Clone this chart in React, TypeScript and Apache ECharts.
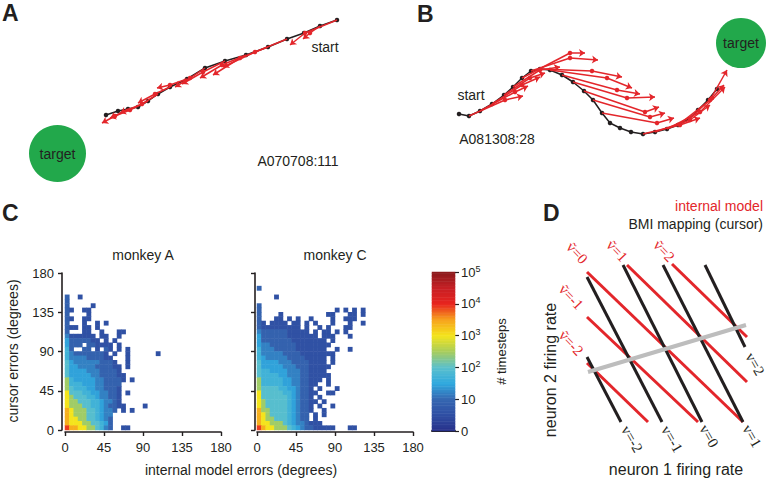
import React, { useEffect, useRef } from 'react';
import * as echarts from 'echarts';

const SANS = '"Liberation Sans", Arial, Helvetica, sans-serif';
const SERIF = '"Liberation Serif", "DejaVu Serif", serif';
const INK = '#231f20';
const RED = '#e3262b';
const GREEN = '#22a84b';
const GRAY = '#bdbdbd';

// ---------- Panel A (workspace units) ----------
const trajA = [
  [33.7, 18.0], [32.0, 17.4], [30.4, 16.7], [28.7, 16.1], [26.8, 15.3], [24.6, 14.5],
  [22.5, 13.9], [20.5, 13.2], [18.7, 12.1], [17.0, 11.3], [15.8, 10.6], [14.8, 9.9],
  [13.8, 9.3], [12.8, 9.1], [11.8, 8.9], [10.6, 8.5],
];
// each internal-model prediction: [start, dot, arrow tip]
const arrowsA = [
  [[33.7, 18.0], [30.5, 16.7], [29.0, 15.5]],
  [[32.0, 17.4], [31.0, 16.7], [30.3, 16.1]],
  [[28.7, 16.1], [25.5, 14.8], [22.3, 13.3]],
  [[26.8, 15.3], [24.0, 14.2], [21.3, 12.5]],
  [[24.6, 14.5], [22.2, 13.5], [20.0, 12.2]],
  [[22.5, 13.9], [20.3, 12.8], [18.2, 11.6]],
  [[20.5, 13.2], [19.0, 12.2], [17.5, 11.3]],
  [[18.7, 12.1], [17.0, 11.5], [15.7, 11.2]],
  [[17.0, 11.3], [15.5, 10.6], [13.8, 9.7]],
  [[15.8, 10.6], [14.2, 9.6], [12.0, 8.7]],
  [[14.8, 9.9], [13.0, 9.0], [11.0, 8.2]],
  [[12.8, 9.1], [11.5, 8.4], [10.2, 7.7]],
];
const targetA = [5.75, 4.65];

// ---------- Panel B ----------
const trajB = [
  [7.9, 8.6], [8.9, 8.4], [10.0, 8.9], [11.2, 9.6], [12.4, 10.5], [13.3, 11.3], [14.2, 12.2],
  [15.1, 12.9], [16.0, 13.1], [17.0, 13.0], [18.2, 12.5], [19.3, 11.8], [20.4, 10.9],
  [21.3, 10.0], [22.2, 8.7], [23.0, 7.7], [24.0, 7.2], [25.1, 6.8], [26.3, 6.6], [27.5, 6.8],
  [28.7, 7.1], [29.8, 7.5], [30.9, 8.1], [31.8, 9.0], [32.8, 10.0], [33.7, 11.1],
];
const arrowsB = [
  [[14.2, 12.2], [19.0, 14.7], [20.5, 14.7]],
  [[15.1, 12.9], [19.0, 14.2], [21.8, 14.0]],
  [[16.0, 13.1], [21.2, 12.9], [24.2, 12.3]],
  [[17.0, 13.0], [22.7, 12.2], [25.2, 11.2]],
  [[18.2, 12.5], [23.7, 11.0], [26.0, 10.6]],
  [[19.3, 11.8], [24.7, 10.2], [27.5, 10.3]],
  [[20.4, 10.9], [26.5, 8.8], [27.9, 9.3]],
  [[21.3, 10.0], [27.0, 8.3], [28.5, 8.7]],
  [[22.2, 8.7], [27.7, 7.7], [29.4, 8.2]],
  [[8.9, 8.4], [12.5, 10.0], [14.3, 10.4]],
  [[10.0, 8.9], [13.5, 10.8], [14.8, 11.4]],
  [[11.2, 9.6], [14.2, 11.5], [16.0, 12.3]],
  [[12.4, 10.5], [15.0, 12.2], [16.5, 12.7]],
  [[13.3, 11.3], [16.0, 13.0], [18.0, 13.3]],
  [[26.3, 6.6], [30.0, 7.5], [32.0, 8.2]],
  [[27.5, 6.8], [31.0, 8.0], [33.0, 9.5]],
  [[28.7, 7.1], [32.0, 8.8], [34.5, 11.3]],
  [[29.8, 7.5], [33.0, 10.0], [34.7, 13.0]],
  [[30.9, 8.1], [33.2, 10.2], [34.4, 11.5]],
];
const targetB = [36.1, 15.7];

// ---------- Panel C (5-degree bins, log10 count levels) ----------
const errorTicks = [0, 45, 90, 135, 180];
const nBins = 36;
const levelValues: Record<string, number> = {
  '1': 0.55, '2': 0.9, '3': 1.2, '4': 1.45, '5': 1.7, '6': 1.95, '7': 2.45, '8': 3.0, '9': 3.4, 'a': 3.9,
};
// rows listed top (highest cursor error) to bottom (0-5 deg); columns = internal model error bins
const monkeyARows = [
  '2..1',
  '2',
  '2.....1',
  '21..11',
  '2....1',
  '21..11',
  '2...1..1.1',
  '211.11.1',
  '2...11..1...11',
  '3111111.11..1',
  '42222211.1.1',
  '4222.221111.1',
  '52..22.1.21.1.1',
  '5322222221.1..1......1',
  '53333222211...1',
  '643333332221..1',
  '6443333222211.1',
  '6444433322221',
  '64444433222211',
  '75444443322221.1',
  '7555444332222',
  '7655544332221',
  '8666554433221.1',
  '8766655433221',
  '8776665543321',
  '87776655432211....1',
  '987776654332.1.1',
  '98777665433',
  '98877665432',
  '98887766542',
  'a9988776532..11',
];
const monkeyCRows = [
  '2',
  '',
  '....1',
  '',
  '2',
  '2.................1.1.1.1',
  '2....1..........11...11.1',
  '2...11.1.1..1....1..111',
  '21.1111.11.1.1...1...1..1',
  '2111111111.1..1.1...11',
  '322222211111.1.11.1.1',
  '42222221111111.111...1',
  '4222222211111111.1',
  '43322222211111111',
  '5333222221111111..1..1',
  '533333222211111111',
  '5433333222211111.1',
  '6444433322221111.1',
  '64444433322211111',
  '6554444333221111',
  '65555443332211111',
  '755555443322111.1',
  '75555544332211..1',
  '7666655443221.1...1',
  '86666655432211..11',
  '8666666543221.1',
  '87666665432211.1',
  '8766666543221.1..1',
  '9776666543221..1',
  '987666654322.1.1',
  '987766654322.1',
  '988777654332111',
  'a98877765432211111...11',
];
const colorbarTicks = [0, 1, 2, 3, 4, 5];
const jetColors = [
  '#28308a', '#2f4ea3', '#3567b1', '#2fa9df', '#5bc0cc', '#a8cd5c',
  '#f4e41c', '#f7a21c', '#e8241f', '#c61f24', '#8a1a1c',
];

// ---------- Panel D ----------
const bmiLines = [
  [[2.7, 8.3], [6.1, 1.8]],
  [[2.7, 16.3], [10.2, 1.8]],
  [[6.3, 17.5], [14.2, 1.8]],
  [[10.3, 17.5], [18.3, 1.8]],
  [[14.5, 17.5], [18.5, 9.3]],
];
const modelLines = [
  [[2.7, 16.8], [18.3, 1.8]],
  [[6.7, 17.5], [18.7, 5.8]],
  [[11.2, 17.6], [18.7, 10.3]],
  [[2.7, 12.3], [13.8, 1.8]],
  [[2.7, 7.7], [8.8, 1.8]],
];
const nullLine = [[2.8, 6.8], [18.6, 11.5]];
const modelLabels = ['ṽ=0', 'ṽ=1', 'ṽ=2', 'ṽ=-1', 'ṽ=-2'];
const bmiLabels = ['v=-2', 'v=-1', 'v=0', 'v=1', 'v=2'];

function rowsToCells(rows: string[]) {
  const out: number[][] = [];
  rows.forEach((s, i) => {
    const r = rows.length - 1 - i;
    for (let c = 0; c < s.length; c++) {
      const ch = s[c];
      if (ch !== '.' && levelValues[ch] !== undefined) out.push([c, r, levelValues[ch]]);
    }
  });
  return out;
}

const bins = Array.from({ length: nBins }, (_, i) => String(i));
const cbRows = Array.from({ length: 100 }, (_, i) => String(i));
const cbCells = cbRows.map((_, i) => [0, i, (i + 0.5) * 0.05]);

function txt(text: string, x: number, y: number, opts: any = {}) {
  return {
    type: 'text',
    x,
    y,
    rotation: opts.rotation || 0,
    z: 50,
    style: {
      text,
      fill: opts.fill || INK,
      fontSize: opts.fontSize || 14,
      fontFamily: opts.fontFamily || SANS,
      fontWeight: opts.fontWeight || 'normal',
      textAlign: opts.align || 'center',
      textVerticalAlign: 'middle',
    },
  };
}

function trajSeries(traj: number[][], arrows: number[][][], target: number[], size: number, idx: number) {
  return [
    {
      type: 'scatter', xAxisIndex: idx, yAxisIndex: idx, data: [target], symbolSize: size, clip: false,
      itemStyle: { color: GREEN, opacity: 1 }, z: 1, silent: true,
      label: { show: true, position: 'inside', formatter: 'target', fontSize: 14, color: INK, fontFamily: SANS },
    },
    {
      type: 'lines', coordinateSystem: 'cartesian2d', xAxisIndex: idx, yAxisIndex: idx, z: 3, silent: true,
      data: arrows.map((a) => ({ coords: [a[0], a[1]] })),
      symbol: ['none', 'none'], lineStyle: { color: RED, width: 1.5, opacity: 1 },
    },
    {
      type: 'lines', coordinateSystem: 'cartesian2d', xAxisIndex: idx, yAxisIndex: idx, z: 3, silent: true,
      data: arrows.map((a) => ({ coords: [a[1], a[2]] })),
      symbol: ['none', 'arrow'], symbolSize: 6, lineStyle: { color: RED, width: 1.5, opacity: 1 },
    },
    {
      type: 'scatter', xAxisIndex: idx, yAxisIndex: idx, data: arrows.map((a) => a[1]), symbolSize: 4.5,
      itemStyle: { color: RED, opacity: 1 }, z: 4, silent: true,
    },
    {
      type: 'line', xAxisIndex: idx, yAxisIndex: idx, data: traj, symbol: 'circle', symbolSize: 4.5,
      itemStyle: { color: INK, opacity: 1 }, lineStyle: { color: INK, width: 1.5 }, z: 2, silent: true,
    },
  ];
}

const axisCommon = {
  axisLine: { show: true, onZero: false, lineStyle: { color: INK, width: 1.6 } },
  axisTick: { show: true, length: 4, lineStyle: { color: INK, width: 1.4 } },
  splitLine: { show: false },
};

export default function App() {
  const ref = useRef<HTMLDivElement>(null);
  useEffect(() => {
    if (!ref.current) return;
    const chart = echarts.init(ref.current, undefined, { renderer: 'svg' });
    const hidden = (gridIndex: number, min: number, max: number) => ({ type: 'value', gridIndex, min, max, show: false });
    const option: any = {
      animation: false,
      textStyle: { fontFamily: SANS },
      grid: [
        { left: 0, top: 0, width: 380, height: 200 },
        { left: 380, top: 0, width: 387, height: 200 },
        { left: 65, top: 273, width: 156, height: 157 },
        { left: 257, top: 273, width: 156, height: 157 },
        { left: 432, top: 272, width: 23, height: 159 },
        { left: 560, top: 240, width: 207, height: 200 },
      ],
      xAxis: [
        hidden(0, 0, 38),
        hidden(1, 0, 38.7),
        { type: 'category', gridIndex: 2, data: bins, show: false },
        {
          type: 'value', gridIndex: 2, min: errorTicks[0], max: errorTicks[4], interval: 45, position: 'bottom', offset: 2, ...axisCommon,
          axisLabel: { fontSize: 13, color: INK, margin: 9, fontFamily: SANS },
        },
        { type: 'category', gridIndex: 3, data: bins, show: false },
        {
          type: 'value', gridIndex: 3, min: errorTicks[0], max: errorTicks[4], interval: 45, position: 'bottom', offset: 2, ...axisCommon,
          axisLabel: { fontSize: 13, color: INK, margin: 9, fontFamily: SANS },
        },
        {
          type: 'category', gridIndex: 4, data: ['cb'], position: 'bottom',
          axisLine: { show: true, onZero: false, lineStyle: { color: INK, width: 2 } },
          axisTick: { show: false }, axisLabel: { show: false }, splitLine: { show: false },
        },
        hidden(5, 0, 20.7),
      ],
      yAxis: [
        hidden(0, 0, 20),
        hidden(1, 0, 20),
        { type: 'category', gridIndex: 2, data: bins, show: false },
        {
          type: 'value', gridIndex: 2, min: errorTicks[0], max: errorTicks[4], interval: 45, position: 'left', offset: 3, ...axisCommon,
          axisLabel: { fontSize: 13, color: INK, margin: 8, fontFamily: SANS },
        },
        { type: 'category', gridIndex: 3, data: bins, show: false },
        {
          type: 'value', gridIndex: 3, min: errorTicks[0], max: errorTicks[4], interval: 45, position: 'left', offset: 2, ...axisCommon,
          axisLabel: { show: false },
        },
        { type: 'category', gridIndex: 4, data: cbRows, show: false },
        {
          type: 'value', gridIndex: 4, min: 0, max: 5, interval: 1, position: 'right',
          axisLine: { show: false },
          axisTick: { show: true, length: 4, lineStyle: { color: INK, width: 1.2 } },
          splitLine: { show: false },
          axisLabel: {
            fontSize: 13, color: INK, margin: 6, fontFamily: SANS, lineHeight: 16,
            formatter: (v: number) => (colorbarTicks.indexOf(v) < 0 ? '' : v === 0 ? '0' : v === 1 ? '10' : '10{s|' + v + '}'),
            rich: { s: { fontSize: 9, verticalAlign: 'top', lineHeight: 16, color: INK, fontFamily: SANS } },
          },
          name: '# timesteps', nameLocation: 'middle', nameRotate: 90, nameGap: 40,
          nameTextStyle: { fontSize: 13, color: INK, fontFamily: SANS },
        },
        hidden(5, 0, 20),
      ],
      visualMap: {
        type: 'continuous', show: false, min: 0, max: 5, dimension: 2, seriesIndex: [0, 1, 2],
        inRange: { color: jetColors },
      },
      series: [
        { type: 'heatmap', xAxisIndex: 2, yAxisIndex: 2, data: rowsToCells(monkeyARows), silent: true },
        { type: 'heatmap', xAxisIndex: 4, yAxisIndex: 4, data: rowsToCells(monkeyCRows), silent: true },
        { type: 'heatmap', xAxisIndex: 6, yAxisIndex: 6, data: cbCells, silent: true },
        ...trajSeries(trajA, arrowsA, targetA, 57, 0),
        ...trajSeries(trajB, arrowsB, targetB, 50, 1),
        {
          type: 'lines', coordinateSystem: 'cartesian2d', xAxisIndex: 7, yAxisIndex: 8, z: 3, silent: true,
          data: modelLines.map((l) => ({ coords: l })), lineStyle: { color: RED, width: 3, opacity: 1 },
        },
        {
          type: 'lines', coordinateSystem: 'cartesian2d', xAxisIndex: 7, yAxisIndex: 8, z: 4, silent: true,
          data: bmiLines.map((l) => ({ coords: l })), lineStyle: { color: INK, width: 3, opacity: 1 },
        },
        {
          type: 'lines', coordinateSystem: 'cartesian2d', xAxisIndex: 7, yAxisIndex: 8, z: 5, silent: true,
          data: [{ coords: nullLine }], lineStyle: { color: GRAY, width: 4, opacity: 1 },
        },
      ],
      graphic: [
        txt('A', 2, 13, { fontSize: 23, fontWeight: 'bold', align: 'left' }),
        txt('B', 417, 14, { fontSize: 23, fontWeight: 'bold', align: 'left' }),
        txt('C', 2, 213, { fontSize: 23, fontWeight: 'bold', align: 'left' }),
        txt('D', 543, 213, { fontSize: 23, fontWeight: 'bold', align: 'left' }),
        txt('start', 325, 47),
        txt('A070708:111', 298, 161),
        txt('start', 471, 95),
        txt('A081308:28', 497, 139),
        txt('monkey A', 143, 255),
        txt('monkey C', 335, 255),
        txt('internal model errors (degrees)', 241, 470),
        txt('cursor errors (degrees)', 13, 351, { rotation: Math.PI / 2 }),
        txt('internal model', 763, 206, { fill: RED, align: 'right' }),
        txt('BMI mapping (cursor)', 763, 224, { align: 'right' }),
        txt('neuron 1 firing rate', 676, 469, { fontSize: 16 }),
        txt('neuron 2 firing rate', 550, 370, { fontSize: 16, rotation: Math.PI / 2 }),
        txt(modelLabels[0], 577, 253, { fill: RED, fontFamily: SERIF, fontSize: 15, rotation: -0.82 }),
        txt(modelLabels[1], 617, 251, { fill: RED, fontFamily: SERIF, fontSize: 15, rotation: -0.82 }),
        txt(modelLabels[2], 664, 251, { fill: RED, fontFamily: SERIF, fontSize: 15, rotation: -0.82 }),
        txt(modelLabels[3], 571, 297, { fill: RED, fontFamily: SERIF, fontSize: 15, rotation: -0.82 }),
        txt(modelLabels[4], 571, 343, { fill: RED, fontFamily: SERIF, fontSize: 15, rotation: -0.82 }),
        txt(bmiLabels[0], 632, 439, { fontFamily: SERIF, fontSize: 15, rotation: -1.05 }),
        txt(bmiLabels[1], 672, 439, { fontFamily: SERIF, fontSize: 15, rotation: -1.05 }),
        txt(bmiLabels[2], 709, 436, { fontFamily: SERIF, fontSize: 15, rotation: -1.05 }),
        txt(bmiLabels[3], 752, 436, { fontFamily: SERIF, fontSize: 15, rotation: -1.05 }),
        txt(bmiLabels[4], 755, 364, { fontFamily: SERIF, fontSize: 15, rotation: -1.05 }),
      ],
    };
    chart.setOption(option);
    return () => chart.dispose();
  }, []);
  return (
    <div
      ref={ref}
      style={{ position: 'fixed', left: 0, top: 0, width: 767, height: 479, background: '#ffffff' }}
    />
  );
}
